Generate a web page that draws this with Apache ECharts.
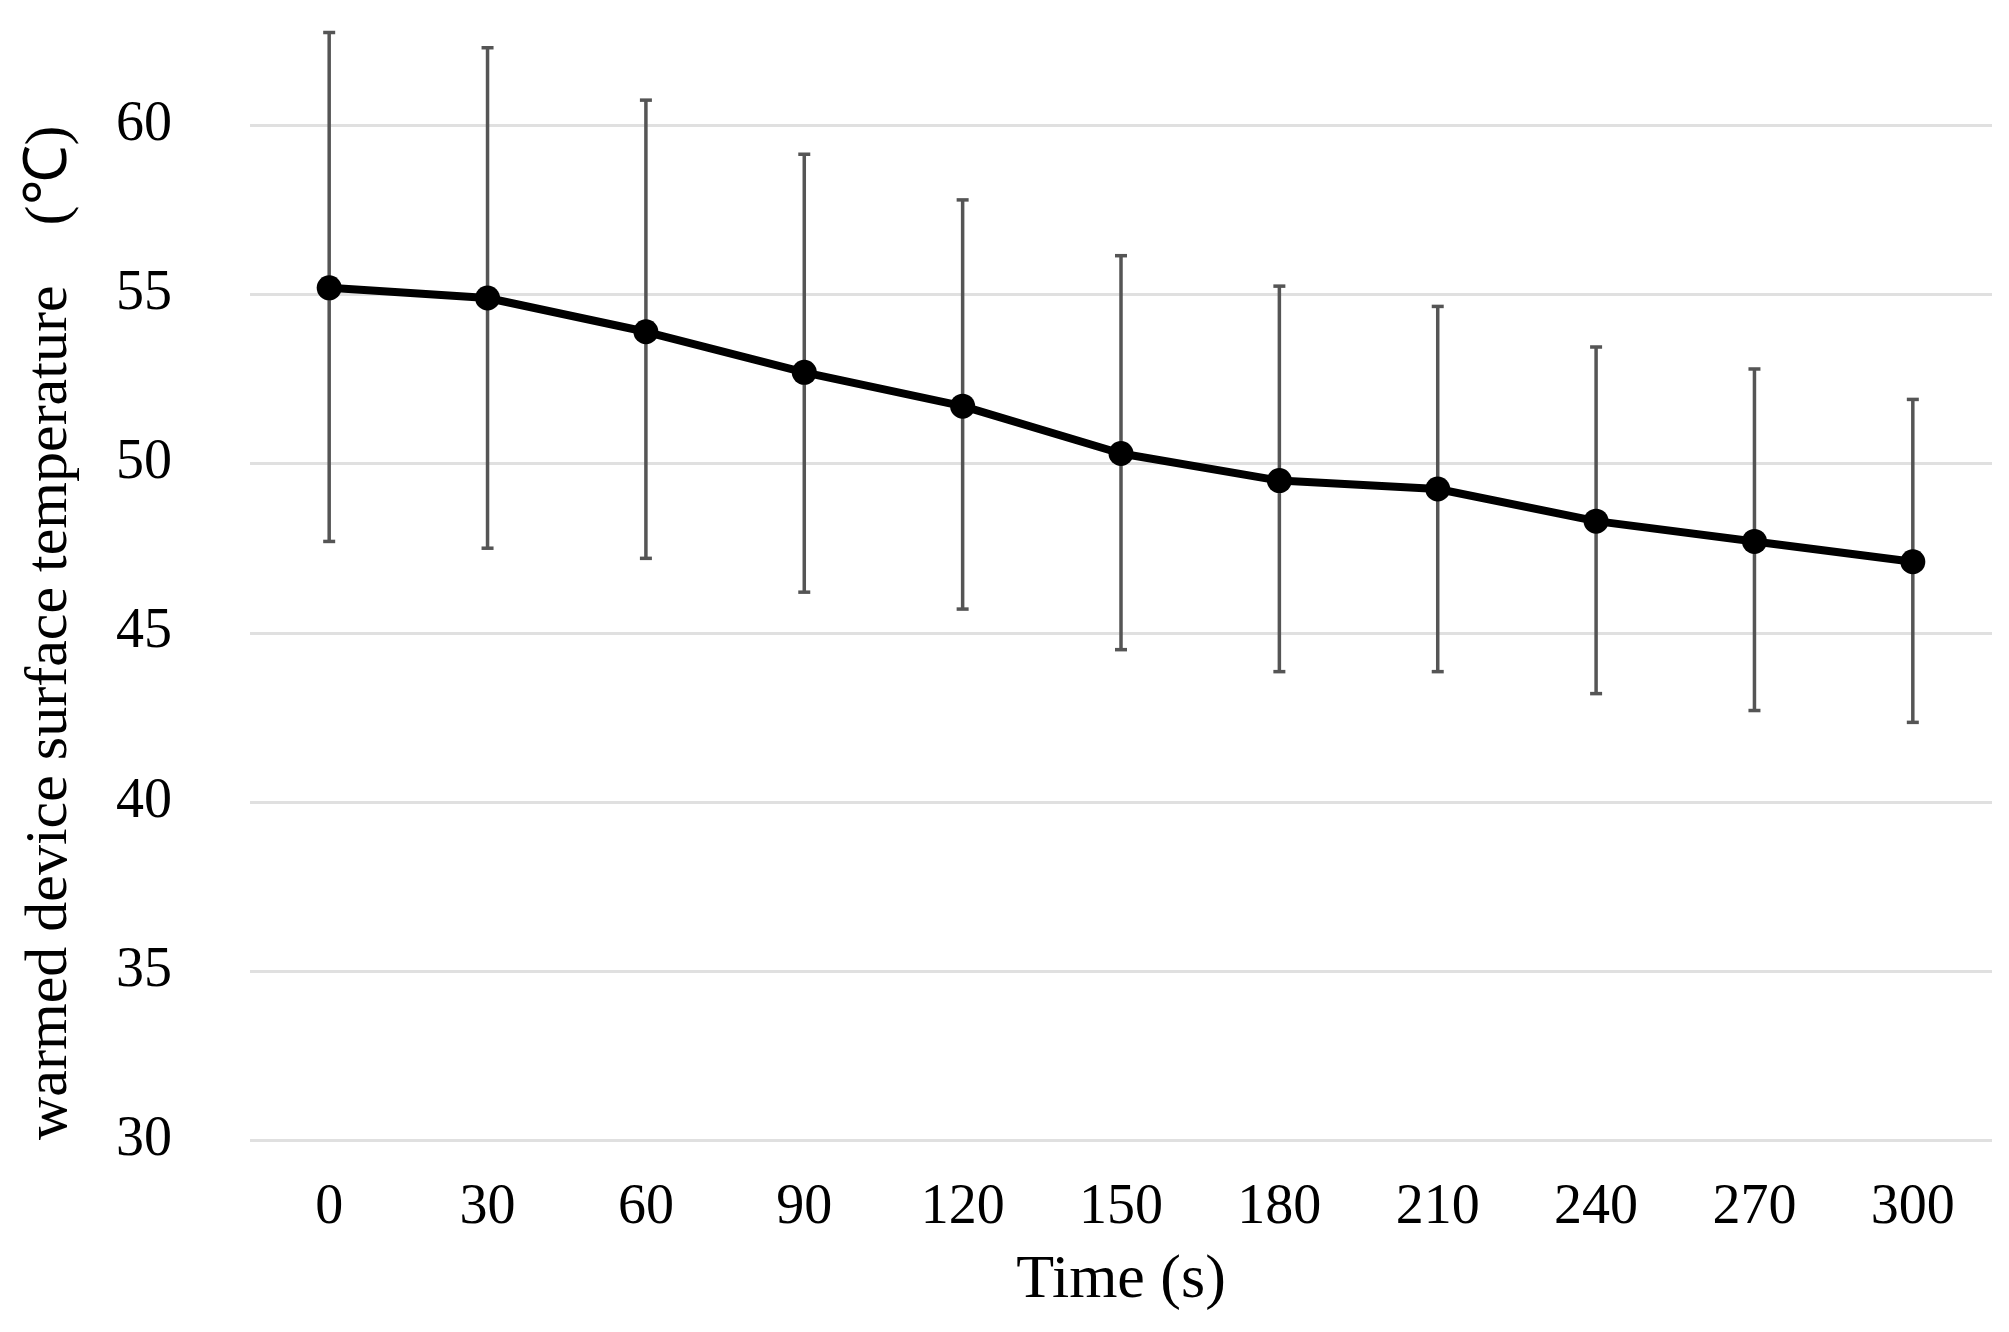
<!DOCTYPE html>
<html>
<head>
<meta charset="utf-8">
<script src="https://cdn.jsdelivr.net/npm/echarts@6/dist/echarts.min.js"></script>
<style>
html,body{margin:0;padding:0;background:#fff;}
#chart{width:2009px;height:1332px;}
</style>
</head>
<body>
<div id="chart"></div>
<script>
const times = ['0','30','60','90','120','150','180','210','240','270','300'];
const means = [55.2, 54.9, 53.9, 52.7, 51.7, 50.3, 49.5, 49.25, 48.3, 47.7, 47.1];
const upper = [62.75, 62.3, 60.75, 59.15, 57.8, 56.15, 55.25, 54.65, 53.45, 52.8, 51.9];
const lower = [47.7, 47.5, 47.2, 46.2, 45.7, 44.5, 43.85, 43.85, 43.2, 42.7, 42.35];
const yTicks = [30, 35, 40, 45, 50, 55, 60];

const errData = times.map((t, i) => [i, lower[i], upper[i]]);
const font = "'Liberation Serif', 'Times New Roman', serif";

const chart = echarts.init(document.getElementById('chart'));
chart.setOption({
  backgroundColor: '#ffffff',
  animation: false,
  grid: { left: 250, right: 17, top: 125.5, bottom: 192 },
  xAxis: {
    type: 'category',
    data: times,
    boundaryGap: true,
    name: 'Time (s)',
    nameLocation: 'middle',
    nameGap: 110,
    nameTextStyle: { fontFamily: font, fontSize: 62, color: '#000' },
    axisLine: { show: false },
    axisTick: { show: false },
    axisLabel: { fontFamily: font, fontSize: 56, color: '#000', margin: 40 }
  },
  yAxis: {
    type: 'value',
    min: yTicks[0],
    max: yTicks[yTicks.length - 1],
    interval: 5,
    name: 'warmed device surface temperature\u3000(\u2103)',
    nameLocation: 'middle',
    nameGap: 170,
    nameTextStyle: { fontFamily: font, fontSize: 60, color: '#000' },
    axisLine: { show: false },
    axisTick: { show: false },
    axisLabel: { fontFamily: font, fontSize: 56, color: '#000', margin: 78 },
    splitLine: { show: true, lineStyle: { color: '#e0e0e0', width: 3 } }
  },
  series: [
    {
      type: 'custom',
      z: 2,
      clip: false,
      data: errData,
      encode: { x: 0, y: [1, 2] },
      renderItem: function (params, api) {
        const x = api.value(0);
        const lo = api.coord([x, api.value(1)]);
        const hi = api.coord([x, api.value(2)]);
        const hw = 6;
        const st = { stroke: '#555555', lineWidth: 3.5 };
        return {
          type: 'group',
          children: [
            { type: 'line', shape: { x1: hi[0], y1: hi[1], x2: lo[0], y2: lo[1] }, style: st },
            { type: 'line', shape: { x1: hi[0] - hw, y1: hi[1], x2: hi[0] + hw, y2: hi[1] }, style: st },
            { type: 'line', shape: { x1: lo[0] - hw, y1: lo[1], x2: lo[0] + hw, y2: lo[1] }, style: st }
          ]
        };
      }
    },
    {
      type: 'line',
      z: 5,
      data: means,
      symbol: 'circle',
      symbolSize: 25,
      lineStyle: { color: '#000', width: 8 },
      itemStyle: { color: '#000' }
    }
  ]
});
</script>
</body>
</html>
